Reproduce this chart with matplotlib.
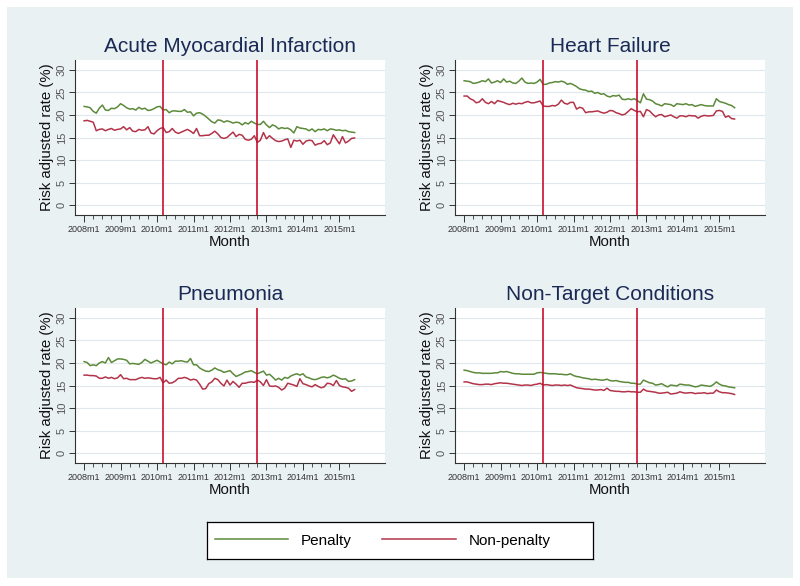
import numpy as np
import matplotlib
matplotlib.use('Agg')
import matplotlib.pyplot as plt
from matplotlib.patches import Rectangle

plt.rcParams['font.family'] = ['Liberation Sans', 'DejaVu Sans']

# months since 2008m1 (2008m1 .. 2015m6)
months = np.arange(90)
year_ticks = [0, 12, 24, 36, 48, 60, 72, 84]
year_labels = ['2008m1', '2009m1', '2010m1', '2011m1', '2012m1', '2013m1', '2014m1', '2015m1']
event_months = [26, 57]   # 2010m3 (ACA), 2012m10 (HRRP start)

ami_pen = [21.9, 21.8, 21.6, 20.8, 20.4, 21.5, 22.2, 21.1, 21.0, 21.5, 21.4, 21.8,
           22.5, 22.1, 21.6, 21.3, 21.4, 21.1, 21.7, 21.3, 21.5, 21.0, 21.1, 21.4,
           21.8, 21.9, 21.1, 21.2, 20.5, 20.9, 20.9, 20.8, 20.8, 21.2, 20.6, 20.7,
           19.8, 20.4, 20.5, 20.2, 19.7, 19.1, 18.5, 18.2, 18.9, 18.8, 18.4, 18.7,
           18.5, 18.2, 18.4, 18.3, 17.8, 18.3, 18.0, 18.6, 18.2, 17.9, 17.9, 18.6,
           17.8, 17.2, 17.8, 17.5, 16.9, 17.2, 17.0, 17.1, 16.7, 16.0, 17.4, 17.1,
           17.0, 16.9, 16.5, 16.9, 16.3, 16.8, 16.7, 16.9, 16.5, 16.9, 16.8, 16.6,
           16.7, 16.5, 16.6, 16.3, 16.2, 16.1]
ami_non = [18.7, 18.8, 18.6, 18.4, 16.5, 16.8, 16.9, 16.5, 16.8, 17.0, 16.6, 16.8,
           16.9, 17.4, 16.7, 17.2, 16.4, 16.3, 16.8, 16.6, 16.7, 17.4, 16.0, 15.8,
           16.5, 17.0, 17.2, 16.1, 16.3, 17.0, 16.2, 15.9, 16.2, 16.5, 16.8, 16.4,
           15.9, 17.0, 15.4, 15.4, 15.5, 15.5, 15.9, 16.4, 15.8, 15.0, 14.8, 15.0,
           15.6, 16.2, 15.2, 15.7, 15.5, 14.6, 14.4, 14.6, 15.4, 13.9, 14.4, 16.1,
           14.7, 15.4, 14.8, 14.3, 14.1, 14.2, 14.5, 14.7, 12.8, 14.4, 14.2, 14.4,
           13.5, 14.2, 14.4, 14.3, 13.3, 13.6, 13.7, 14.3, 13.4, 13.8, 15.6, 14.6,
           13.6, 15.2, 13.8, 14.2, 14.8, 14.9]

hf_pen = [27.6, 27.5, 27.4, 27.0, 27.1, 27.3, 27.6, 27.4, 28.0, 27.1, 27.3, 27.6,
          27.2, 28.0, 27.3, 27.5, 27.1, 27.0, 27.5, 28.2, 27.3, 27.0, 27.1, 27.0,
          27.3, 27.9, 26.8, 26.8, 27.1, 27.2, 27.4, 27.3, 27.5, 27.3, 26.8, 27.0,
          26.7, 26.3, 25.8, 25.6, 25.5, 25.2, 25.3, 24.8, 25.0, 24.6, 24.7, 24.2,
          24.0, 24.3, 24.2, 24.4, 23.5, 23.4, 23.6, 23.4, 23.6, 23.2, 22.7, 24.7,
          23.5, 23.4, 23.1, 22.5, 22.3, 22.0, 22.5, 22.4, 22.3, 21.9, 22.5, 22.4,
          22.3, 22.5, 22.2, 22.3, 21.9, 22.1, 22.3, 22.1, 22.0, 22.0, 22.0, 23.6,
          23.0, 22.8, 22.6, 22.3, 22.1, 21.6]
hf_non = [24.2, 24.2, 23.6, 23.3, 22.7, 22.9, 23.6, 22.8, 22.5, 23.0, 22.5, 23.2,
          23.0, 22.8, 22.5, 22.3, 22.6, 22.4, 22.6, 22.5, 22.8, 23.0, 22.7, 22.7,
          22.9, 23.1, 22.0, 21.9, 21.9, 22.1, 22.0, 22.4, 23.3, 22.6, 22.4, 22.8,
          22.8, 21.3, 21.7, 21.5, 20.5, 20.7, 20.7, 20.8, 20.9, 20.6, 20.4, 20.6,
          21.0, 20.9, 20.5, 20.3, 20.0, 20.2, 20.8, 21.4, 21.0, 20.7, 20.8, 19.6,
          21.2, 20.9, 20.2, 19.6, 20.0, 20.1, 19.6, 19.8, 20.0, 19.6, 19.3, 19.8,
          19.8, 19.6, 19.9, 19.8, 19.8, 19.3, 19.7, 19.9, 19.8, 19.8, 19.9, 20.9,
          21.0, 20.8, 19.5, 19.8, 19.2, 19.1]

pn_pen = [20.3, 20.1, 19.4, 19.6, 19.4, 20.0, 20.3, 20.0, 21.2, 20.1, 20.5, 20.9,
          20.9, 20.8, 20.6, 19.8, 19.9, 19.8, 19.7, 20.1, 20.8, 20.4, 20.0, 20.3,
          20.6, 20.2, 19.8, 19.6, 20.2, 19.8, 20.4, 20.4, 20.5, 20.3, 20.2, 21.0,
          19.6, 19.6, 18.9, 18.5, 18.2, 18.1, 18.4, 18.9, 18.5, 18.3, 17.9, 18.1,
          18.3, 17.6, 17.0, 17.3, 17.6, 18.0, 18.1, 18.3, 17.9, 17.6, 17.9, 18.2,
          17.3, 17.5, 16.9, 16.2, 16.6, 16.2, 16.8, 16.6, 17.1, 17.4, 17.6, 17.3,
          17.6, 16.9, 16.7, 16.4, 16.3, 16.5, 16.8, 16.9, 16.7, 16.9, 17.3, 17.0,
          16.6, 16.4, 16.5, 15.9, 16.0, 16.3]
pn_non = [17.3, 17.3, 17.2, 17.2, 17.1, 16.6, 16.6, 16.9, 16.6, 16.8, 16.5, 16.7,
          17.4, 16.5, 16.6, 16.3, 16.3, 16.3, 16.6, 16.8, 16.6, 16.7, 16.6, 16.5,
          16.5, 16.8, 15.6, 16.2, 15.5, 15.6, 16.0, 16.6, 16.6, 16.8, 16.6, 16.2,
          16.4, 16.2, 15.3, 14.2, 14.3, 15.4, 15.8, 16.6, 16.3, 15.5, 14.9, 16.2,
          15.1, 15.9, 15.3, 14.6, 15.5, 15.5, 15.7, 15.8, 15.7, 16.2, 15.8, 15.0,
          16.3, 14.9, 14.8, 14.9, 14.6, 14.0, 14.4, 15.5, 15.3, 15.1, 14.8, 16.5,
          15.4, 15.2, 14.9, 14.7, 15.2, 14.8, 14.5, 14.7, 15.5, 15.4, 15.0, 16.1,
          15.0, 14.7, 14.6, 14.4, 13.7, 14.1]

nt_pen = [18.4, 18.3, 18.1, 17.9, 17.8, 17.8, 17.7, 17.7, 17.7, 17.7, 17.8, 17.8,
          18.1, 18.0, 18.1, 17.9, 17.7, 17.6, 17.6, 17.5, 17.5, 17.5, 17.5, 17.5,
          17.8, 17.9, 17.8, 17.7, 17.6, 17.6, 17.6, 17.5, 17.5, 17.4, 17.4, 17.6,
          17.2, 17.0, 16.9, 16.7, 16.6, 16.5, 16.3, 16.4, 16.3, 16.2, 16.2, 16.4,
          16.1, 16.0, 16.1, 15.9, 15.8, 15.7, 15.7, 15.5, 15.5, 15.3, 15.3, 16.2,
          15.9, 15.6, 15.5, 15.1, 15.2, 15.4, 15.0, 14.7, 15.1, 15.0, 14.9, 15.3,
          15.2, 15.1, 15.1, 14.9, 14.7, 14.8, 15.1, 15.0, 14.9, 14.8, 15.2, 15.8,
          15.3, 15.0, 14.9, 14.7, 14.6, 14.5]
nt_non = [15.8, 15.8, 15.6, 15.4, 15.3, 15.2, 15.2, 15.3, 15.3, 15.2, 15.4, 15.5,
          15.6, 15.5, 15.5, 15.4, 15.3, 15.2, 15.1, 15.0, 15.1, 15.1, 15.0, 15.2,
          15.3, 15.5, 15.1, 15.2, 15.1, 15.0, 15.1, 15.1, 15.0, 15.1, 15.0, 15.1,
          14.8, 14.5, 14.4, 14.3, 14.2, 14.2, 14.1, 14.0, 14.0, 14.1, 13.9, 14.4,
          13.9, 13.8, 13.7, 13.7, 13.6, 13.6, 13.7, 13.6, 13.6, 13.5, 13.5, 14.2,
          13.8, 13.7, 13.6, 13.5, 13.3, 13.3, 13.4, 13.5, 13.1, 13.2, 13.3, 13.6,
          13.4, 13.3, 13.4, 13.4, 13.2, 13.3, 13.3, 13.4, 13.2, 13.3, 13.3, 14.0,
          13.6, 13.4, 13.4, 13.3, 13.2, 13.0]

titles = ['Acute Myocardial Infarction', 'Heart Failure', 'Pneumonia', 'Non-Target Conditions']
penalty = [ami_pen, hf_pen, pn_pen, nt_pen]
nonpenalty = [ami_non, hf_non, pn_non, nt_non]
y_ticks = [0, 5, 10, 15, 20, 25, 30]

GREEN = '#5c8a3a'
RED = '#b3344a'
VLINE = '#c8102e'
NAVY = '#1a2a55'
BG = '#eaf1f3'
GRID = '#dfe8ec'

W, H = 800, 586
fig = plt.figure(figsize=(8, 5.86), dpi=100, facecolor='white')
fig.patches.append(Rectangle((7 / W, 8 / H), 786 / W, 571 / H, transform=fig.transFigure,
                             facecolor=BG, edgecolor='none', zorder=-10))

# plot regions in pixels: (left, top) ; each 310 x 155
boxes = [(75, 60), (455, 60), (75, 308), (455, 308)]
axes = []
for (lx, ty), title, pen, non in zip(boxes, titles, penalty, nonpenalty):
    ax = fig.add_axes([lx / W, 1 - (ty + 155) / H, 310 / W, 155 / H])
    ax.set_facecolor('white')
    lp, = ax.plot(months, pen, color=GREEN, lw=1.1, label='Penalty', zorder=3)
    ln, = ax.plot(months, non, color=RED, lw=1.1, label='Non-penalty', zorder=3)
    for m in event_months:
        ax.axvline(m, color=VLINE, lw=1.2, zorder=4)
    ax.set_xlim(-3, 99)
    ax.set_ylim(-2.2, 32.2)
    ax.set_yticks(y_ticks)
    ax.set_yticklabels([str(v) for v in y_ticks], rotation=90, va='center')
    ax.set_xticks(year_ticks)
    ax.set_xticklabels(year_labels)
    ax.set_xticks([m for m in range(3, 90, 3) if m % 12], minor=True)
    ax.grid(axis='y', color=GRID, lw=0.8, zorder=0)
    ax.set_axisbelow(True)
    for s in ['top', 'right']:
        ax.spines[s].set_visible(False)
    for s in ['left', 'bottom']:
        ax.spines[s].set_color('#333333')
        ax.spines[s].set_linewidth(0.8)
    ax.tick_params(axis='y', length=4, width=0.7, color='#333333', labelsize=8,
                   labelcolor='#555555', pad=2)
    ax.tick_params(axis='x', which='major', length=5, width=0.7, color='#333333',
                   labelsize=6.5, labelcolor='#333333', pad=2)
    ax.tick_params(axis='x', which='minor', length=3, width=0.6, color='#333333')
    ax.set_ylabel('Risk adjusted rate (%)', fontsize=10.8, color='#111111', labelpad=2)
    ax.set_xlabel('Month', fontsize=10.8, color='#111111', labelpad=1)
    ax.set_title(title, fontsize=15, color=NAVY, pad=6)
    axes.append((ax, lp, ln))

# legend box
lax = fig.add_axes([207 / W, 1 - 559 / H, 386 / W, 37 / H])
lax.set_facecolor('white')
lax.set_xticks([]); lax.set_yticks([])
for s in lax.spines.values():
    s.set_color('black')
    s.set_linewidth(0.9)
_, lp, ln = axes[0]
lax.legend([lp, ln], ['Penalty', 'Non-penalty'], loc='center left', ncol=2, frameon=False,
           fontsize=11, handlelength=4.8, handletextpad=0.85, columnspacing=2.0,
           borderaxespad=0.1, bbox_to_anchor=(0.0, 0.5))

fig.savefig('out.png', dpi=100)
